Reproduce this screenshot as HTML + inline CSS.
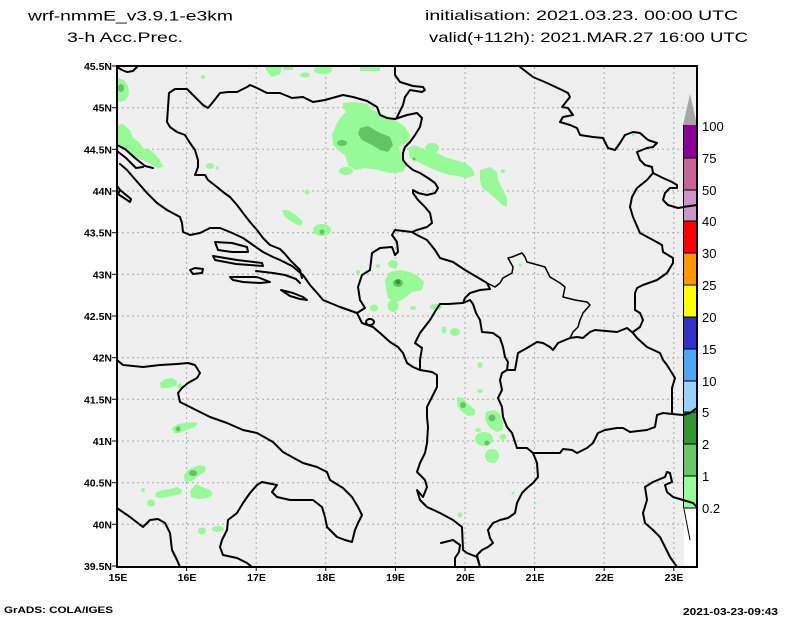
<!DOCTYPE html>
<html><head><meta charset="utf-8"><style>
html,body{margin:0;padding:0;background:#fff;}
svg{display:block;}
text{font-family:"Liberation Sans",sans-serif;fill:#000;}
.t{font-size:14px;}
.ax{font-size:10.5px;font-weight:bold;}
.cb{font-size:13px;}
.co{fill:none;stroke:#000;stroke-width:2;stroke-linejoin:round;stroke-linecap:round;}
.th{fill:none;stroke:#000;stroke-width:1.5;stroke-linejoin:round;}
.g{stroke:#a8a8a8;stroke-width:1;stroke-dasharray:2,3;}
.l{fill:#96fa96;}
.m{fill:#64c464;}
.d{fill:#329632;}
</style></head><body>
<svg width="800" height="618" viewBox="0 0 800 618" xmlns="http://www.w3.org/2000/svg">
<rect x="0" y="0" width="800" height="618" fill="#fff"/>
<!-- titles -->
<text class="t" x="28" y="20.5" textLength="205" lengthAdjust="spacingAndGlyphs">wrf-nmmE_v3.9.1-e3km</text>
<text class="t" x="67" y="42" textLength="116" lengthAdjust="spacingAndGlyphs">3-h Acc.Prec.</text>
<text class="t" x="425" y="20" textLength="313" lengthAdjust="spacingAndGlyphs">initialisation: 2021.03.23.  00:00 UTC</text>
<text class="t" x="429" y="42" textLength="319" lengthAdjust="spacingAndGlyphs">valid(+112h): 2021.MAR.27 16:00 UTC</text>

<!-- map background -->
<rect x="117" y="66" width="580" height="501" fill="#efefef"/>

<!-- grid -->
<g class="g">
<line x1="186.6" y1="67" x2="186.6" y2="567"/>
<line x1="256.2" y1="67" x2="256.2" y2="567"/>
<line x1="325.8" y1="67" x2="325.8" y2="567"/>
<line x1="395.4" y1="67" x2="395.4" y2="567"/>
<line x1="465" y1="67" x2="465" y2="567"/>
<line x1="534.6" y1="67" x2="534.6" y2="567"/>
<line x1="604.2" y1="67" x2="604.2" y2="567"/>
<line x1="673.8" y1="67" x2="673.8" y2="567"/>
<line x1="117" y1="107.7" x2="697" y2="107.7"/>
<line x1="117" y1="149.3" x2="697" y2="149.3"/>
<line x1="117" y1="191" x2="697" y2="191"/>
<line x1="117" y1="232.7" x2="697" y2="232.7"/>
<line x1="117" y1="274.3" x2="697" y2="274.3"/>
<line x1="117" y1="316" x2="697" y2="316"/>
<line x1="117" y1="357.7" x2="697" y2="357.7"/>
<line x1="117" y1="399.3" x2="697" y2="399.3"/>
<line x1="117" y1="441" x2="697" y2="441"/>
<line x1="117" y1="482.7" x2="697" y2="482.7"/>
<line x1="117" y1="524.3" x2="697" y2="524.3"/>
</g>

<!-- precipitation -->
<g>
<polygon class="l" points="117,78 124,80 128,86 129,94 126,100 120,102 117,100"/>
<ellipse class="m" cx="121" cy="88" rx="3" ry="4"/>
<polygon class="l" points="117,125 123,124 130,130 133,138 139,142 143,148 150,150 156,155 160,160 163,167 157,168 150,163 142,160 135,157 128,152 122,147 117,143"/>
<circle class="l" cx="203" cy="77" r="2"/>
<ellipse class="l" cx="210" cy="166" rx="4" ry="3"/>
<circle class="l" cx="217" cy="168" r="1.5"/>
<polygon class="l" points="265,67 282,67 280,74 272,77 268,73"/>
<rect class="l" x="283" y="67" width="10" height="3"/>
<ellipse class="l" cx="305" cy="75" rx="5" ry="2.5"/>
<ellipse class="l" cx="323" cy="70" rx="9" ry="4"/>
<rect class="l" x="360" y="67" width="20" height="4"/>
<!-- main Sava blob -->
<polygon class="l" points="343,103 355,102 368,104 372,110 385,115 395,120 405,127 410,135 408,142 398,147 403,155 407,165 403,172 390,173 378,170 365,168 355,170 348,165 345,155 338,150 333,145 332,135 336,125 340,118 346,112 343,107"/>
<ellipse class="l" cx="346" cy="171" rx="7" ry="4"/>
<polygon class="m" points="360,128 368,126 378,132 390,137 393,145 388,152 380,150 372,145 362,140 358,134"/>
<ellipse class="m" cx="342" cy="143" rx="5" ry="3"/>
<!-- east streaks -->
<polygon class="l" points="408,148 415,145 425,150 435,152 445,157 455,160 465,163 472,168 475,175 468,178 458,176 450,175 440,172 430,168 420,163 410,158"/>
<ellipse class="l" cx="432" cy="148" rx="7" ry="5"/>
<circle class="m" cx="414" cy="159" r="1.5"/>
<polygon class="l" points="480,170 490,167 497,172 498,180 502,188 507,198 507,207 502,205 495,198 488,192 482,188 480,180"/>
<circle class="l" cx="503" cy="171" r="2"/>
<circle class="l" cx="307" cy="192" r="2.5"/>
<polygon class="l" points="282,210 288,210 296,215 303,222 300,226 292,222 285,217"/>
<ellipse class="l" cx="322" cy="230" rx="9" ry="6"/>
<circle class="m" cx="322" cy="232" r="2.5"/>
<ellipse class="l" cx="393" cy="264" rx="5" ry="4"/>
<circle class="l" cx="358" cy="272" r="2"/>
<circle class="l" cx="378" cy="266" r="2"/>
<polygon class="l" points="390,272 400,270 410,272 418,276 424,282 422,290 412,292 405,298 395,303 388,298 386,288 385,280"/>
<ellipse class="m" cx="398" cy="283" rx="5" ry="4"/>
<circle class="d" cx="398" cy="282" r="2.5"/>
<ellipse class="l" cx="374" cy="308" rx="4" ry="3.5"/>
<ellipse class="l" cx="393" cy="306" rx="5.5" ry="6"/>
<ellipse class="l" cx="413" cy="308" rx="3" ry="2"/>
<ellipse class="l" cx="436" cy="307" rx="6" ry="3"/>
<ellipse class="l" cx="444" cy="330" rx="2.5" ry="3.5"/>
<ellipse class="l" cx="455" cy="332" rx="5" ry="4"/>
<ellipse class="l" cx="480" cy="365" rx="2.5" ry="3"/>
<ellipse class="l" cx="480" cy="391" rx="2.5" ry="2"/>
<polygon class="l" points="457,397 463,398 468,404 475,410 475,415 468,416 461,411 457,405"/>
<circle class="m" cx="463" cy="405" r="3"/>
<polygon class="l" points="486,412 494,410 500,414 503,422 503,430 497,432 490,428 485,420"/>
<circle class="m" cx="492" cy="418" r="3.5"/>
<ellipse class="l" cx="478" cy="430" rx="3" ry="2"/>
<ellipse class="l" cx="484" cy="439" rx="9" ry="7"/>
<circle class="m" cx="487" cy="443" r="2.5"/>
<ellipse class="l" cx="503" cy="437" rx="3.5" ry="3"/>
<ellipse class="l" cx="492" cy="456" rx="7" ry="7"/>
<ellipse class="l" cx="460" cy="515" rx="2.5" ry="2.5"/>
<circle class="l" cx="513" cy="493" r="1.5"/>
<circle class="l" cx="535" cy="503" r="1.5"/>
<circle class="l" cx="633" cy="135" r="1.5"/>
<circle class="l" cx="520" cy="265" r="1.5"/>
<!-- Italy side -->
<polygon class="l" points="160,383 165,379 172,378 177,381 176,386 168,388 161,388"/>
<ellipse class="l" cx="180" cy="386" rx="3" ry="2.5"/>
<polygon class="l" points="172,428 178,424 186,423 193,422 198,423 195,427 186,430 180,433 174,433"/>
<circle class="m" cx="178" cy="429" r="2.5"/>
<polygon class="l" points="184,475 188,470 194,467 200,465 206,467 205,472 198,476 192,481 185,482"/>
<ellipse class="m" cx="193" cy="473" rx="4" ry="3"/>
<circle class="l" cx="143" cy="490" r="2"/>
<polygon class="l" points="155,493 162,490 170,489 177,487 182,490 181,494 172,496 162,498 156,497"/>
<ellipse class="l" cx="151" cy="503" rx="4" ry="3.5"/>
<polygon class="l" points="190,491 196,484 202,487 210,490 213,494 208,498 198,499 191,497"/>
<ellipse class="l" cx="202" cy="531" rx="4" ry="3.5"/>
<ellipse class="l" cx="218" cy="529" rx="6" ry="3"/>
</g>

<!-- coastlines & borders -->
<g class="co">
<polyline points="117,67 122,70 127,72 133,71 137,67"/>
<polyline points="167,122 169,93 175,89 187,89 195,97 203,105 208,108 213,102 220,93 228,92 237,92 247,87 250,85 257,88 267,93 280,93 292,98 303,97 313,102 325,100 343,95 353,97 367,101 377,107 380,115 387,118 395,119"/>
<polyline points="167,122 170,127 177,132 185,135 190,143 195,150 198,160 198,167 195,175 205,175 208,180 217,187 223,192 230,197 237,205 243,213 250,222 257,230 263,238 270,245 275,247 280,249 285,254 290,260 300,270 302,278"/>
<polyline points="395,67 395,75 400,82 413,86 423,87 425,90 422,92 410,90 405,97 403,105 397,117"/>
<polyline points="395,119 407,115 417,113 422,118 420,127 415,135 410,142 405,147 403,153 403,160 407,165 413,170 420,173 428,178 435,183 438,188 435,193 427,195 418,193 413,190 413,193 418,200 425,207 430,213 432,223 427,227 417,230 412,232"/>
<polyline points="412,232 395,230 392,235 397,242 398,252 395,255 392,247 380,248 372,253 370,270 362,275 358,287 360,300 365,308 357,313"/>
<polyline points="412,232 417,235 427,240 435,250 440,258 453,262 465,270 477,277 487,283 490,289 480,290 470,293 465,298 463,303"/>
<polyline points="463,303 448,304 440,304 436,310 430,320 420,333 415,343 422,348 420,360 420,370"/>
<polyline points="463,303 470,300 473,304 476,313 480,320 482,332 493,333 500,338 503,347 505,357 508,362 507,370 502,373 500,380 502,390 498,398 502,407 503,417 507,427 512,433 515,442 517,448 527,448 533,453 537,463 538,477 533,483 527,488 522,493 517,503 515,513 508,518 500,520 493,523 488,530 490,538 493,543 488,547 482,550 477,555 480,567"/>
<polyline points="507,370 515,370 518,353 527,348 537,342 543,343 550,347 553,350 558,343 570,338 577,337 583,338 590,332 595,330 617,332 627,328 633,333"/>
<polyline points="633,333 637,338 647,347 660,353 663,360 667,365 675,378 672,388 672,413"/>
<polyline points="533,453 560,453 563,449 572,450 577,453 587,448 593,443 598,433 605,430 617,428 623,428 630,432 647,430 655,427 657,415 663,413 672,414 683,415 690,413 697,408"/>
<polyline points="520,67 533,77 547,83 562,90 568,93 570,97 562,107 568,108 573,115 563,117 560,122 570,125 577,128 580,135 593,137 603,138 608,148 615,150 620,143 625,135 633,132 640,133 648,140 657,143 653,147 647,148 637,152 640,160 645,165 652,167 653,173 663,178 672,182 677,185 677,188 670,188 665,193 663,200 668,205 678,208 697,205"/>
<polyline points="653,173 647,180 637,188 632,197 630,207 633,217 640,233 653,240 662,245 663,252 673,258 673,263 667,273 657,280 643,285 637,288 635,293 635,310 640,313 643,320 640,327 633,332"/>
<polyline points="645,487 653,482 665,477 667,472 670,473 672,482 665,485 667,492 673,497 683,500 693,503 697,507"/>
<polyline points="645,487 647,500 643,513 645,523 653,530 660,537 665,547 670,557 677,567"/>
<!-- Italy -->
<polyline points="117,360 123,365 143,367 160,365 177,364 188,363 195,365 200,373 197,378 188,383 182,388 178,393 180,402 190,407 210,417 227,423 243,430 257,433 273,442 283,452 292,457 303,463 317,467 327,472 330,480 343,488 352,497 358,507 362,515 358,523 355,530 352,542 345,540 337,537 330,530 327,527 325,517 322,507 313,500 300,500 290,500 277,497 272,492 277,485 267,483 262,482 257,485 250,493 243,503 237,513 228,520 227,530 222,540 220,547 223,555 237,558 247,563 252,567"/>
<polyline points="117,508 130,517 143,527 150,520 158,519 165,523 170,533 172,550 177,560 180,567"/>
<!-- Croatian / Adriatic coast -->
<polyline points="117,145 125,149 135,158 145,166 153,168"/>
<polyline points="117,151 126,158 132,164 136,168 143,167"/>
<polyline points="120,164 127,170 133,177 147,193 157,203 167,210 180,217 182,223 183,232 190,235 200,233 210,228 220,228 230,232 243,238 253,245 263,252 273,257 280,260 292,266 303,275 310,285 318,294 323,300 340,307 357,313 362,323 373,327 380,333 390,342 398,347 403,353 407,363 413,367 420,370 432,372 437,375 437,387 433,395 427,407 427,417 428,427 427,443 425,453 420,463 417,472 425,480 427,487 423,497 417,490 420,500 427,507 440,513 453,520 462,527 463,550 467,553 477,557 480,567"/>
<polyline points="117,186 121,191"/>
<polygon points="120,190 131,199 130,202 118,194"/>
<polygon points="215,242 232,243 247,247 248,252 232,252 218,250"/>
<polygon points="213,256 237,260 262,263 263,266 236,264 215,260"/>
<polygon points="190,270 195,268 203,269 202,273 193,274"/>
<polygon points="230,277 240,277 257,277 265,280 270,282 260,283 243,282 233,280"/>
<polyline points="256,271 273,273 285,275 296,279 300,283"/>
<polygon points="281,290 293,293 303,297 307,300 300,299 290,296"/>
<ellipse cx="370" cy="322" rx="4" ry="3"/>
<polyline points="441,543 453,540 460,545 459,552 455,558 455,567"/>
</g>
<g class="th">
<polyline points="487,283 495,287 500,283 503,278 512,273 513,267 508,258 512,257 522,253 525,257 527,262 538,265 545,267 550,277 560,283 565,287 563,297 575,300 587,302 590,305 583,313 580,320 578,327 573,332 570,338"/>
</g>

<!-- white area below colorbar -->
<rect x="684" y="509" width="12" height="57" fill="#fff"/>
<line x1="684" y1="509" x2="690" y2="540" stroke="#000" stroke-width="1"/>

<!-- colorbar -->
<polygon points="683,125 690,94 697,125" fill="#a6a6a6"/>
<rect x="683" y="125" width="14" height="33" fill="#8c0099"/>
<rect x="683" y="158" width="14" height="32" fill="#c86496"/>
<rect x="683" y="190" width="14" height="31" fill="#c896c8"/>
<rect x="683" y="221" width="14" height="32" fill="#ff0000"/>
<rect x="683" y="253" width="14" height="32" fill="#ff9600"/>
<rect x="683" y="285" width="14" height="32" fill="#ffff00"/>
<rect x="683" y="317" width="14" height="32" fill="#3232c8"/>
<rect x="683" y="349" width="14" height="32" fill="#50a5f5"/>
<rect x="683" y="381" width="14" height="31" fill="#96d2fa"/>
<rect x="683" y="412" width="14" height="32" fill="#329632"/>
<rect x="683" y="444" width="14" height="32" fill="#64c864"/>
<rect x="683" y="476" width="14" height="32" fill="#96ff96"/>
<g stroke="#000" stroke-width="1">
<line x1="683.5" y1="125" x2="683.5" y2="508"/>
<line x1="683" y1="158" x2="697" y2="158"/>
<line x1="683" y1="190" x2="697" y2="190"/>
<line x1="683" y1="221" x2="697" y2="221"/>
<line x1="683" y1="253" x2="697" y2="253"/>
<line x1="683" y1="285" x2="697" y2="285"/>
<line x1="683" y1="317" x2="697" y2="317"/>
<line x1="683" y1="349" x2="697" y2="349"/>
<line x1="683" y1="381" x2="697" y2="381"/>
<line x1="683" y1="412" x2="697" y2="412"/>
<line x1="683" y1="444" x2="697" y2="444"/>
<line x1="683" y1="476" x2="697" y2="476"/>
<line x1="683" y1="508" x2="697" y2="508"/>
</g>
<!-- lines crossing colorbar -->
<polyline class="co" points="683,207 697,205"/>
<polyline class="co" points="683,415 690,413 697,408"/>
<polyline class="co" points="683,500 693,503 697,507"/>

<!-- frame -->
<rect x="117" y="66" width="580" height="501" fill="none" stroke="#000" stroke-width="2"/>
<line x1="697" y1="66" x2="697" y2="94" stroke="#000" stroke-width="2"/>

<!-- colorbar labels -->
<g class="cb">
<text x="702" y="131">100</text>
<text x="702" y="163">75</text>
<text x="702" y="195">50</text>
<text x="702" y="226">40</text>
<text x="702" y="258">30</text>
<text x="702" y="290">25</text>
<text x="702" y="322">20</text>
<text x="702" y="354">15</text>
<text x="702" y="386">10</text>
<text x="702" y="417">5</text>
<text x="702" y="449">2</text>
<text x="702" y="481">1</text>
<text x="702" y="513">0.2</text>
</g>

<!-- ticks -->
<g stroke="#000" stroke-width="1">
<line x1="112" y1="66" x2="117" y2="66"/>
<line x1="112" y1="107.7" x2="117" y2="107.7"/>
<line x1="112" y1="149.3" x2="117" y2="149.3"/>
<line x1="112" y1="191" x2="117" y2="191"/>
<line x1="112" y1="232.7" x2="117" y2="232.7"/>
<line x1="112" y1="274.3" x2="117" y2="274.3"/>
<line x1="112" y1="316" x2="117" y2="316"/>
<line x1="112" y1="357.7" x2="117" y2="357.7"/>
<line x1="112" y1="399.3" x2="117" y2="399.3"/>
<line x1="112" y1="441" x2="117" y2="441"/>
<line x1="112" y1="482.7" x2="117" y2="482.7"/>
<line x1="112" y1="524.3" x2="117" y2="524.3"/>
<line x1="112" y1="566" x2="117" y2="566"/>
<line x1="186.6" y1="567" x2="186.6" y2="571"/>
<line x1="256.2" y1="567" x2="256.2" y2="571"/>
<line x1="325.8" y1="567" x2="325.8" y2="571"/>
<line x1="395.4" y1="567" x2="395.4" y2="571"/>
<line x1="465" y1="567" x2="465" y2="571"/>
<line x1="534.6" y1="567" x2="534.6" y2="571"/>
<line x1="604.2" y1="567" x2="604.2" y2="571"/>
<line x1="673.8" y1="567" x2="673.8" y2="571"/>
</g>

<!-- lat labels -->
<g class="ax" text-anchor="end">
<text x="112" y="70">45.5N</text>
<text x="112" y="111.7">45N</text>
<text x="112" y="153.3">44.5N</text>
<text x="112" y="195">44N</text>
<text x="112" y="236.7">43.5N</text>
<text x="112" y="278.3">43N</text>
<text x="112" y="320">42.5N</text>
<text x="112" y="361.7">42N</text>
<text x="112" y="403.3">41.5N</text>
<text x="112" y="445">41N</text>
<text x="112" y="486.7">40.5N</text>
<text x="112" y="528.3">40N</text>
<text x="112" y="570">39.5N</text>
</g>
<!-- lon labels -->
<g class="ax" text-anchor="middle">
<text x="118" y="581">15E</text>
<text x="187" y="581">16E</text>
<text x="256.5" y="581">17E</text>
<text x="326" y="581">18E</text>
<text x="395.5" y="581">19E</text>
<text x="465.5" y="581">20E</text>
<text x="535" y="581">21E</text>
<text x="604.5" y="581">22E</text>
<text x="674" y="581">23E</text>
</g>

<!-- footer -->
<text x="4" y="613" style="font-size:9.5px;font-weight:bold;" textLength="109" lengthAdjust="spacingAndGlyphs">GrADS: COLA/IGES</text>
<text x="683" y="615" style="font-size:10.5px;font-weight:bold;" textLength="95" lengthAdjust="spacingAndGlyphs">2021-03-23-09:43</text>
</svg>
</body></html>
